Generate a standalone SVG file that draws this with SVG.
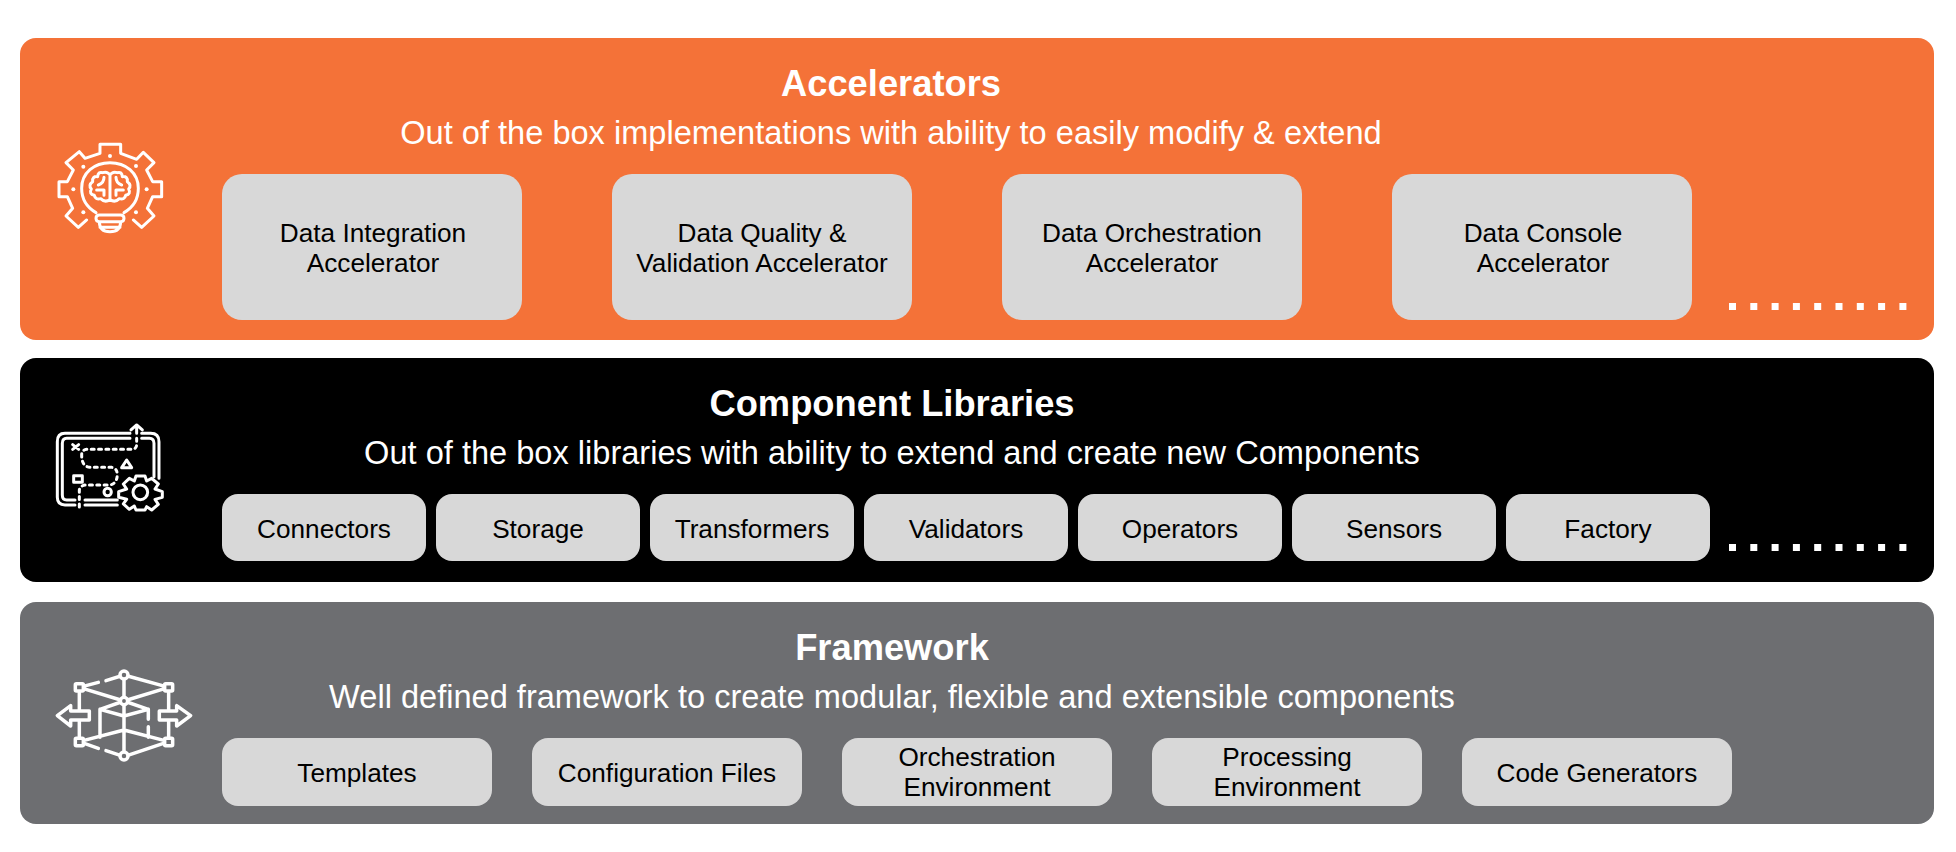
<svg xmlns="http://www.w3.org/2000/svg" width="1956" height="852" viewBox="0 0 1956 852">
<style>
text{font-family:"Liberation Sans",Arial,sans-serif;text-anchor:middle}
.t{font-size:36.3px;font-weight:700;fill:#fff}
.s{font-size:32.6px;fill:#fff}
.b{font-size:26.2px;fill:#000}
.box{fill:#d8d8d8}
.ic{fill:none;stroke:#fff;stroke-width:9;stroke-linejoin:round;stroke-linecap:round}
.dot{fill:#fff;stroke:none}
</style>
<defs>
<g id="dots" class="dot">
<rect x="0" y="0" width="7" height="7"/><rect x="21.3" y="0" width="7" height="7"/><rect x="42.6" y="0" width="7" height="7"/><rect x="63.9" y="0" width="7" height="7"/><rect x="85.2" y="0" width="7" height="7"/><rect x="106.5" y="0" width="7" height="7"/><rect x="127.8" y="0" width="7" height="7"/><rect x="149.1" y="0" width="7" height="7"/><rect x="170.4" y="0" width="7" height="7"/>
</g>
</defs>
<g id="accelerators">
<rect x="20" y="38" width="1914" height="302" rx="16" fill="#f47238"/>
<text class="t" x="891" y="96">Accelerators</text>
<text class="s" x="891" y="144">Out of the box implementations with ability to easily modify &amp; extend</text>
<g transform="translate(30 120) scale(.3333)" class="ic">
<path d="M170 300L145 322L108 288L128 265L112 230H87V185H112L130 150L108 128L148 95L165 115L210 100V73H272V100L320 118L340 97L372 128L350 150L368 185H395V230H368L352 265L372 288L335 322L310 300"/>
<path d="M198 278C170 262 155 235 155 205C155 158 193 128 240 128C287 128 325 158 325 205C325 235 310 262 282 278"/>
<path d="M208 285H272Q282 285 282 295T272 305H208Q198 305 198 295T208 285ZM208 305Q208 335 240 335T272 305M210 322H270"/>
<path d="M240 165Q232 153 218 158Q204 154 203 170Q186 168 188 185Q174 195 184 207Q176 222 193 226Q196 240 212 236Q226 250 240 238Q254 250 268 236Q284 240 287 226Q304 222 296 207Q306 195 292 185Q294 168 277 170Q276 154 262 158Q248 153 240 165V238M205 195Q222 190 222 172M275 195Q258 190 258 172M200 210H222V226M280 210H258V226"/>
<g class="dot"><circle cx="240" cy="108" r="6"/><circle cx="160" cy="140" r="6"/><circle cx="318" cy="138" r="6"/><circle cx="130" cy="208" r="6"/><circle cx="350" cy="208" r="6"/><circle cx="160" cy="277" r="6"/><circle cx="318" cy="277" r="6"/></g>
</g>
<g id="a1"><rect class="box" x="222" y="174" width="300" height="146" rx="20"/><text class="b" x="373" y="242">Data Integration</text><text class="b" x="373" y="272">Accelerator</text></g>
<g id="a2"><rect class="box" x="612" y="174" width="300" height="146" rx="20"/><text class="b" x="762" y="242">Data Quality &amp;</text><text class="b" x="762" y="272">Validation Accelerator</text></g>
<g id="a3"><rect class="box" x="1002" y="174" width="300" height="146" rx="20"/><text class="b" x="1152" y="242">Data Orchestration</text><text class="b" x="1152" y="272">Accelerator</text></g>
<g id="a4"><rect class="box" x="1392" y="174" width="300" height="146" rx="20"/><text class="b" x="1543" y="242">Data Console</text><text class="b" x="1543" y="272">Accelerator</text></g>
<use href="#dots" x="1729" y="303"/>
</g>
<g id="component-libraries">
<rect x="20" y="358" width="1914" height="224" rx="16" fill="#000"/>
<text class="t" x="892" y="416">Component Libraries</text>
<text class="s" x="892" y="464">Out of the box libraries with ability to extend and create new Components</text>
<g transform="translate(30 410) scale(.3333)" class="ic">
<path d="M135 285H105Q82 285 82 262V95Q82 70 105 70H300M335 70H362Q387 70 387 95V205M135 270H110Q97 270 97 255V100Q97 85 110 85H300M335 85H358Q372 85 372 100V200M165 285H262M165 270H262"/>
<path d="M303 60L320 45L337 60M320 50V70" />
<path d="M320 85V105Q318 118 305 118H170Q155 120 155 135Q155 170 180 172H245Q262 175 262 195Q260 225 235 225H165Q150 228 148 240V297" stroke-dasharray="9 13"/>
<path d="M128 104L146 118M146 104L128 118"/>
<path d="M275 173L290 150L305 173Z"/>
<rect x="131" y="197" width="26" height="20"/>
<circle cx="233" cy="246" r="11"/>
<path d="M318 198H345L350 213L365 205L385 222L375 237L397 245V262L375 268L385 283L365 300L350 290L345 300H318L313 288L298 298L280 282L290 268L266 262V245L290 237L280 222L298 205L313 213Z"/>
<circle cx="331" cy="247" r="22"/>
</g>
<g id="c1"><rect class="box" x="222" y="494" width="204" height="67" rx="16"/><text class="b" x="324" y="538">Connectors</text></g>
<g id="c2"><rect class="box" x="436" y="494" width="204" height="67" rx="16"/><text class="b" x="538" y="538">Storage</text></g>
<g id="c3"><rect class="box" x="650" y="494" width="204" height="67" rx="16"/><text class="b" x="752" y="538">Transformers</text></g>
<g id="c4"><rect class="box" x="864" y="494" width="204" height="67" rx="16"/><text class="b" x="966" y="538">Validators</text></g>
<g id="c5"><rect class="box" x="1078" y="494" width="204" height="67" rx="16"/><text class="b" x="1180" y="538">Operators</text></g>
<g id="c6"><rect class="box" x="1292" y="494" width="204" height="67" rx="16"/><text class="b" x="1394" y="538">Sensors</text></g>
<g id="c7"><rect class="box" x="1506" y="494" width="204" height="67" rx="16"/><text class="b" x="1608" y="538">Factory</text></g>
<use href="#dots" x="1729" y="544"/>
</g>
<g id="framework">
<rect x="20" y="602" width="1914" height="222" rx="16" fill="#6d6e71"/>
<text class="t" x="892" y="660">Framework</text>
<text class="s" x="892" y="708">Well defined framework to create modular, flexible and extensible components</text>
<g transform="translate(30 650) scale(.3333)" class="ic" style="stroke-width:10.5">
<path d="M148 112L205 97M228 92L282 75L416 112V275L282 320L228 302M205 295L148 275V112M148 112L282 153L416 112M148 275L282 240L416 275M282 75V320M282 153L210 178V262M282 153L355 178V208M355 230V262M210 178L282 198L355 178"/>
<g fill="#6d6e71"><rect x="136" y="101" width="24" height="22" rx="3"/><rect x="404" y="101" width="24" height="22" rx="3"/><rect x="136" y="265" width="24" height="22" rx="3"/><rect x="404" y="265" width="24" height="22" rx="3"/><circle cx="282" cy="75" r="12"/><circle cx="282" cy="153" r="11"/><circle cx="282" cy="318" r="12"/>
<path d="M178 183V210H122V228L82 197L122 167V183Z"/><path d="M388 183V210H440V228L482 197L440 167V183Z"/></g>
</g>
<g id="f1"><rect class="box" x="222" y="738" width="270" height="68" rx="16"/><text class="b" x="357" y="782">Templates</text></g>
<g id="f2"><rect class="box" x="532" y="738" width="270" height="68" rx="16"/><text class="b" x="667" y="782">Configuration Files</text></g>
<g id="f3"><rect class="box" x="842" y="738" width="270" height="68" rx="16"/><text class="b" x="977" y="766">Orchestration</text><text class="b" x="977" y="796">Environment</text></g>
<g id="f4"><rect class="box" x="1152" y="738" width="270" height="68" rx="16"/><text class="b" x="1287" y="766">Processing</text><text class="b" x="1287" y="796">Environment</text></g>
<g id="f5"><rect class="box" x="1462" y="738" width="270" height="68" rx="16"/><text class="b" x="1597" y="782">Code Generators</text></g>
</g>
</svg>
